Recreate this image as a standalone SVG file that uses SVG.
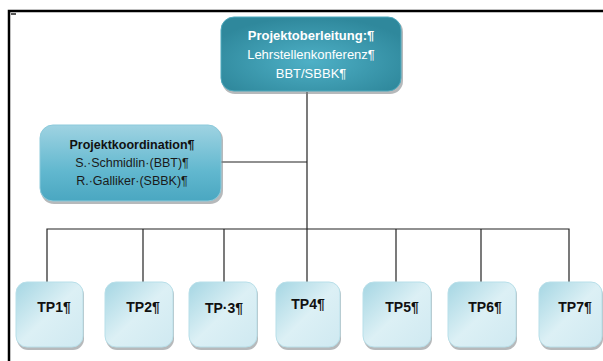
<svg xmlns="http://www.w3.org/2000/svg" width="603" height="361" viewBox="0 0 603 361">
<defs>
<radialGradient id="gTop" cx="0.5" cy="0.6" r="0.6">
<stop offset="0" stop-color="#4eb0c6"/>
<stop offset="1" stop-color="#2f889c"/>
</radialGradient>
<linearGradient id="gCoord" x1="0" y1="0" x2="0" y2="1">
<stop offset="0" stop-color="#9fd3e2"/>
<stop offset="0.6" stop-color="#62b8cf"/>
<stop offset="1" stop-color="#4aa7c1"/>
</linearGradient>
<linearGradient id="gTP" x1="0" y1="0" x2="1" y2="1">
<stop offset="0" stop-color="#a5d6e3"/>
<stop offset="0.5" stop-color="#dcf0f5"/>
<stop offset="1" stop-color="#cfe9f1"/>
</linearGradient>
</defs>
<style>
.frame{stroke:#000;stroke-width:2.5;fill:none}
.conn{stroke:#222;stroke-width:1.2;fill:none}
.shadow{fill:#7a7f84;opacity:0.55}
.top{fill:url(#gTop);stroke:#4fa9bd;stroke-width:1}
.coord{fill:url(#gCoord);stroke:#8ccadb;stroke-width:1}
.tp{fill:url(#gTP);stroke:#b8dfe9;stroke-width:1}
text{font-family:"Liberation Sans",Arial,sans-serif;font-size:13px;text-anchor:middle}
.w{fill:#ffffff}
.wb{fill:#ffffff;font-weight:bold}
.d{fill:#1a1a1a;font-size:12.5px}
.db{fill:#111;font-weight:bold;font-size:12.5px}
.tpl{fill:#111;font-weight:bold;font-size:14px}
</style>
<rect width="603" height="361" fill="#ffffff"/>
<path class="frame" d="M9,361 V11 H603"/>
<rect x="11" y="13" width="5" height="2" fill="#555"/>
<g id="connectors">
<path class="conn" d="M307,92 V229"/>
<path class="conn" d="M221,162 H307"/>
<path class="conn" d="M47,282 V229 H569 V282"/>
<path class="conn" d="M143,229 V282"/>
<path class="conn" d="M224,229 V282"/>
<path class="conn" d="M307,229 V282"/>
<path class="conn" d="M396,229 V282"/>
<path class="conn" d="M481,229 V282"/>
</g>
<g id="top">
<rect class="shadow" x="222" y="19" width="181" height="75" rx="13"/>
<rect class="top" x="221" y="17" width="180" height="74" rx="13"/>
<text class="wb" x="311" y="40">Projektoberleitung:¶</text>
<text class="w" x="311" y="59">Lehrstellenkonferenz¶</text>
<text class="w" x="311" y="78">BBT/SBBK¶</text>
</g>
<g id="coord">
<rect class="shadow" x="41" y="127" width="182" height="77" rx="13"/>
<rect class="coord" x="40" y="125" width="181" height="76" rx="13"/>
<text class="db" x="132" y="149">Projektkoordination¶</text>
<text class="d" x="132" y="167">S.·Schmidlin·(BBT)¶</text>
<text class="d" x="132" y="185">R.·Galliker·(SBBK)¶</text>
</g>
<g id="tp1">
<rect class="shadow" x="17" y="284" width="67" height="66" rx="11"/>
<rect class="tp" x="16" y="282" width="67" height="65" rx="11"/>
<text class="tpl" x="54" y="312">TP1¶</text>
</g>
<g id="tp2">
<rect class="shadow" x="106" y="284" width="68" height="66" rx="11"/>
<rect class="tp" x="105" y="282" width="68" height="65" rx="11"/>
<text class="tpl" x="143" y="312">TP2¶</text>
</g>
<g id="tp3">
<rect class="shadow" x="190" y="284" width="68" height="66" rx="11"/>
<rect class="tp" x="189" y="282" width="68" height="65" rx="11"/>
<text class="tpl" x="224" y="313">TP·3¶</text>
</g>
<g id="tp4">
<rect class="shadow" x="277" y="284" width="64" height="66" rx="11"/>
<rect class="tp" x="276" y="282" width="64" height="65" rx="11"/>
<text class="tpl" x="308" y="309">TP4¶</text>
</g>
<g id="tp5">
<rect class="shadow" x="364" y="284" width="68" height="66" rx="11"/>
<rect class="tp" x="363" y="282" width="68" height="65" rx="11"/>
<text class="tpl" x="402" y="312">TP5¶</text>
</g>
<g id="tp6">
<rect class="shadow" x="449" y="284" width="68" height="66" rx="11"/>
<rect class="tp" x="448" y="282" width="68" height="65" rx="11"/>
<text class="tpl" x="485" y="312">TP6¶</text>
</g>
<g id="tp7">
<rect class="shadow" x="540" y="284" width="63" height="66" rx="11"/>
<rect class="tp" x="539" y="282" width="63" height="65" rx="11"/>
<text class="tpl" x="575" y="312">TP7¶</text>
</g>
</svg>
